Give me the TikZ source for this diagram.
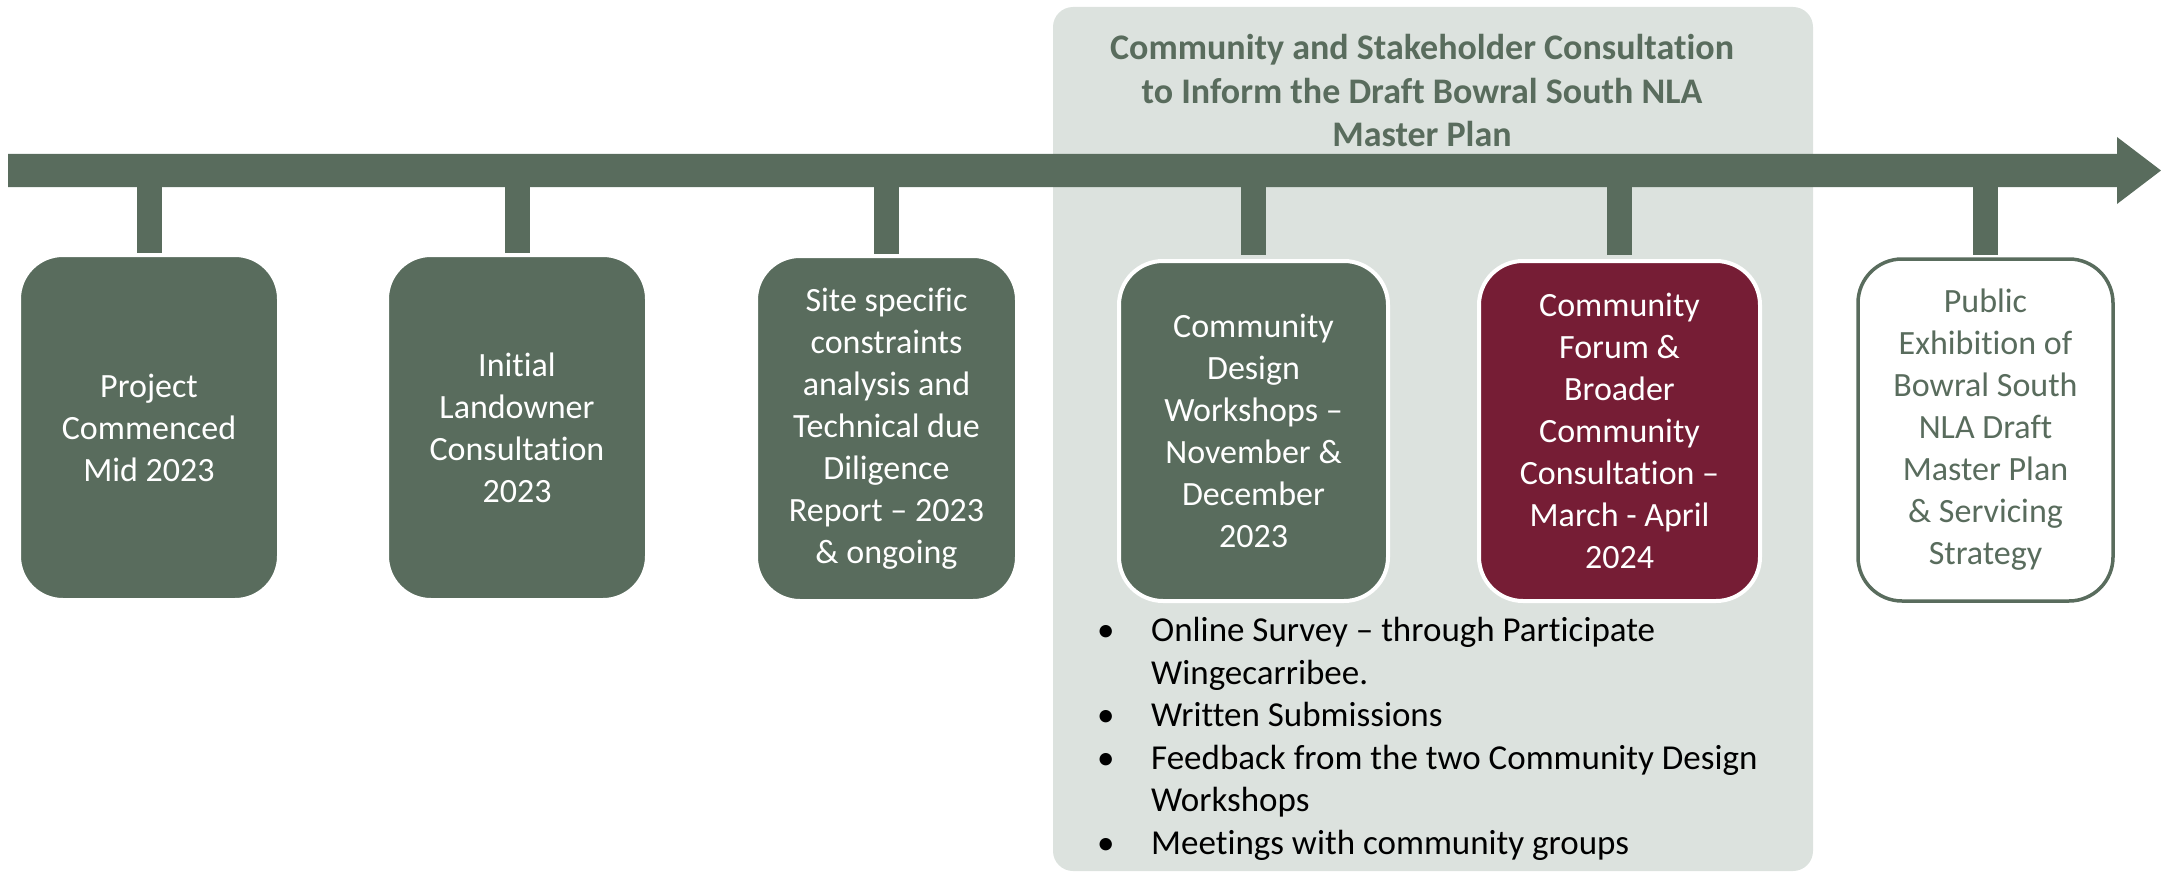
\documentclass[tikz,border=0pt]{standalone}
\usepackage{fontspec}
\setmainfont{Carlito}[Ligatures=NoCommon]
\usetikzlibrary{positioning}

\definecolor{sage}{HTML}{596C5D}
\definecolor{panelgrey}{HTML}{DCE2DE}
\definecolor{wine}{HTML}{761D35}

\tikzset{
	stage/.style={rounded corners=44pt, fill=sage, draw=white, line width=4pt, text=white,
		align=center, inner sep=0pt, font={\fontsize{34}{42}\selectfont}},
	stage now/.style={stage, fill=wine},
	stage next/.style={stage, fill=white, draw=sage, line width=3.5pt, text=sage},
	stem/.style={draw=sage, line width=25pt, shorten >=2pt},
}

\begin{document}
\begin{tikzpicture}[x=1pt, y=-1pt]
	\useasboundingbox (0,0) rectangle (2161,872);
	
	% Consultation panel
	\fill[panelgrey, rounded corners=20pt] (1053,7) rectangle (1813,871);
	\node[font={\fontsize{36}{43.5}\selectfont\bfseries}, text=sage, align=center] (paneltitle) at (1422,91)
		{Community and Stakeholder Consultation\\to Inform the Draft Bowral South NLA\\Master Plan};
	
	% Timeline
	\fill[sage] (8,154) -- (2117,154) -- (2117,137) -- (2161,170.5) -- (2117,204) -- (2117,187) -- (8,187) -- cycle;
	
	% Stems
	\foreach \n/\x in {1/149, 2/517, 3/886.5, 4/1253.5, 5/1619.5, 6/1985.5} {
		\coordinate (b\n) at (\x,178);
		\draw[stem] (b\n) -- (\x,257);
	}
	
	% Stages
	\node[stage, minimum width=260pt, minimum height=345pt] (s1) at (149,427.5) {Project\\Commenced\\Mid 2023};
	\node[stage, minimum width=260pt, minimum height=345pt] (s2) at (517,427.5) {Initial\\Landowner\\Consultation\\2023};
	\node[stage, minimum width=261pt, minimum height=345pt] (s3) at (886.5,428.5) {Site specific\\constraints\\analysis and\\Technical due\\Diligence\\Report – 2023\\\& ongoing};
	\node[stage, minimum width=269pt, minimum height=340pt] (s4) at (1253.5,431) {Community\\Design\\Workshops –\\November \&\\December\\2023};
	\node[stage now, minimum width=281pt, minimum height=340pt] (s5) at (1619.5,431) {Community\\Forum \&\\Broader\\Community\\Consultation –\\March - April\\2024};
	\node[stage next, minimum width=255pt, minimum height=342pt] (s6) at (1985.5,430) {Public\\Exhibition of\\Bowral South\\NLA Draft\\Master Plan\\\& Servicing\\Strategy};
	
	% Feedback list
	\node[anchor=north west, inner sep=0pt, font={\fontsize{35}{42.5}\selectfont}] (feedback) at (1097,612) {%
		\begin{tabular}{@{}p{54pt}@{}l@{}}
			\textbullet & Online Survey – through Participate\\
			& Wingecarribee.\\
			\textbullet & Written Submissions\\
			\textbullet & Feedback from the two Community Design\\
			& Workshops\\
			\textbullet & Meetings with community groups
		\end{tabular}};
\end{tikzpicture}
\end{document}
